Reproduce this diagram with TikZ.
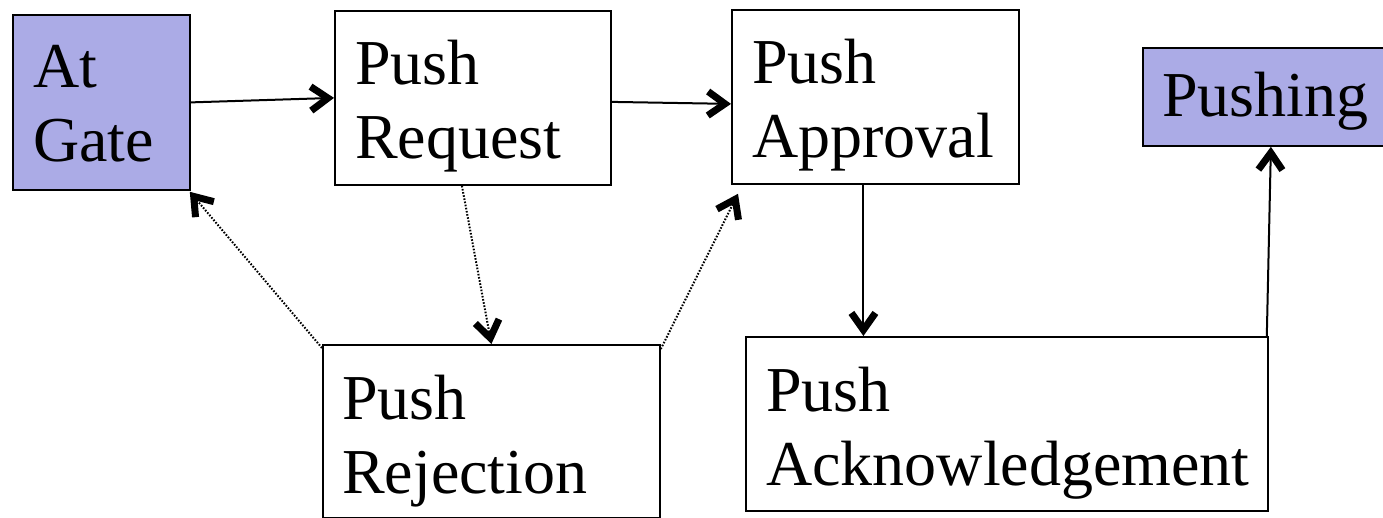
\documentclass[tikz,border=0pt]{standalone}
\usepackage{fontspec}
\setmainfont{Liberation Serif}
\newfontfamily\boxfont{Liberation Serif}
\usetikzlibrary{arrows.meta}
\definecolor{statefill}{RGB}{171,171,230}
\tikzset{
  box/.style={draw=black, line width=1.8pt, anchor=north west, inner sep=0pt},
  purplebox/.style={box, fill=statefill},
  boxtext/.style={anchor=north west, inner sep=0pt, align=left, font=\boxfont\fontsize{64}{74}\selectfont},
  conn/.style={line width=2pt, -{Straight Barb[length=17pt,width=24pt,line width=7pt]}},
  dotconn/.style={conn, dash pattern=on 1.6pt off 1.6pt}
}
\begin{document}
\begin{tikzpicture}[x=1pt,y=-1pt]
\useasboundingbox (0,0) rectangle (1383,518);
\clip (0,0) rectangle (1383,518);
% boxes
\node[purplebox, minimum width=177pt, minimum height=175pt] (gate) at (12,14) {};
\node[box, minimum width=276pt, minimum height=174pt] (req) at (334,10) {};
\node[box, minimum width=287pt, minimum height=174pt] (app) at (731,9) {};
\node[purplebox, minimum width=256pt, minimum height=98pt] (push) at (1142,47) {};
\node[box, minimum width=337pt, minimum height=173pt] (rej) at (322,344) {};
\node[box, minimum width=522pt, minimum height=174pt] (ack) at (745,336) {};
% texts
\node[boxtext] (tgate) at ([xshift=21pt,yshift=-31pt]gate.north west) {At\\Gate};
\node[boxtext] (treq) at ([xshift=21pt,yshift=-30pt]req.north west) {Push\\Request};
\node[boxtext] (tapp) at ([xshift=21pt,yshift=-30pt]app.north west) {Push\\Approval};
\node[boxtext] (tpush) at ([xshift=20pt,yshift=-25pt]push.north west) {Pushing};
\node[boxtext] (trej) at ([xshift=20pt,yshift=-31pt]rej.north west) {Push\\Rejection};
\node[boxtext] (tack) at ([xshift=21pt,yshift=-31pt]ack.north west) {Push\\Acknowledgement};
% connectors
\draw[conn] (gate.east) -- (req.west);
\draw[conn] ([yshift=-4pt]req.east) -- ([yshift=-7pt]app.west);
\draw[dotconn] ([xshift=-11pt]req.south) -- (rej.north);
\draw[dotconn] ([yshift=-4pt]rej.north west) -- ([shift={(-1pt,-1pt)}]gate.south east);
\draw[dotconn] ([yshift=-5pt]rej.north east) -- ([shift={(7pt,-9pt)}]app.south west);
\draw[conn] ([xshift=-12pt]app.south) -- ([xshift=-12pt]app.south |- ack.north);
\draw[conn] ([xshift=-2pt]ack.north east) -- (push.south);
\end{tikzpicture}
\end{document}
